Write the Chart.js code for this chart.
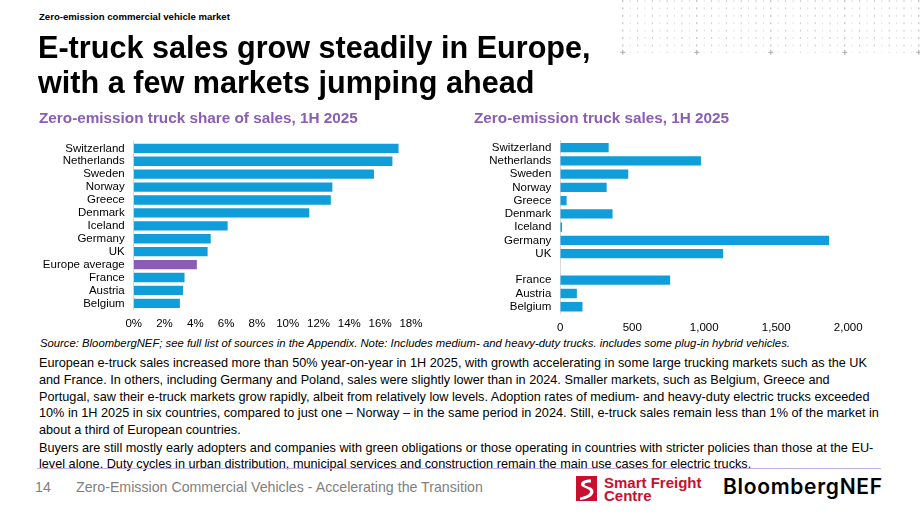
<!DOCTYPE html>
<html>
<head>
<meta charset="utf-8">
<script src="https://cdn.jsdelivr.net/npm/chart.js@4.4.1/dist/chart.umd.min.js"></script>
<style>
  body { margin: 0; width: 920px; height: 518px; position: relative; overflow: hidden; background: #fff;
         font-family: "Liberation Sans", Arial, sans-serif; color: #000; }
  .t { position: absolute; white-space: nowrap; line-height: 1; }
  .purple { color: #8a5db6; font-weight: bold; }
  canvas { position: absolute; }
</style>
</head>
<body>

<canvas id="dots" width="305" height="58" style="left:615px;top:0"></canvas>

<div class="t" style="left:39px;top:11.6px;font-size:9.6px;font-weight:bold">Zero-emission commercial vehicle market</div>
<div class="t" style="left:38px;top:31.6px;font-size:30.6px;font-weight:bold">E-truck sales grow steadily in Europe,</div>
<div class="t" style="left:38px;top:66.6px;font-size:30.6px;font-weight:bold">with a few markets jumping ahead</div>

<div class="t purple" style="left:39px;top:109.5px;font-size:15.3px">Zero-emission truck share of sales, 1H 2025</div>
<div class="t purple" style="left:474px;top:109.5px;font-size:15.3px">Zero-emission truck sales, 1H 2025</div>

<canvas id="shareChart" width="400" height="209" style="left:30px;top:126px"></canvas>
<canvas id="salesChart" width="400" height="210" style="left:470px;top:125px"></canvas>

<div class="t" style="left:40px;top:337.7px;font-size:11.3px;font-style:italic">Source: BloombergNEF; see full list of sources in the Appendix. Note: Includes medium- and heavy-duty trucks. includes some plug-in hybrid vehicles.</div>

<div id="body1" class="t" style="left:39px;font-size:12.7px;line-height:16.8px;white-space:pre;top:355px"></div>
<div id="body2" class="t" style="left:39px;font-size:12.7px;line-height:16.5px;white-space:pre;top:439.5px"></div>

<div style="position:absolute;left:37px;top:467.5px;width:844px;height:1px;background:#c4b0de"></div>

<div class="t" style="left:35px;top:480px;font-size:14.2px;color:#7f7f7f">14</div>
<div class="t" style="left:76px;top:480px;font-size:14.2px;color:#7f7f7f">Zero-Emission Commercial Vehicles - Accelerating the Transition</div>

<svg style="position:absolute;left:576px;top:476px" width="21" height="25" viewBox="0 0 21 25">
  <rect x="0" y="0" width="21" height="25" fill="#c8102e"/>
  <path d="M15 3.5 C9 3.5 5 5 5 8.5 C5 12 14 12 14 15.5 C14 18.5 10 20 4 21.5 L4 24 C12 23 17.5 20 17.5 15.5 C17.5 10.5 8.5 10.5 8.5 8.5 C8.5 7 11 6.5 15 6.5 Z" fill="#fff"/>
</svg>
<div class="t" style="left:604px;top:476px;font-size:15px;font-weight:bold;color:#c8102e;line-height:13px">Smart Freight<br>Centre</div>
<div class="t" style="left:723px;top:476px;font-size:21px;font-family:Inter,'Liberation Sans',sans-serif;font-weight:600;letter-spacing:0.7px">BloombergNEF</div>

<script>
// ---- data ----
const countries = ['Switzerland', 'Netherlands', 'Sweden', 'Norway', 'Greece', 'Denmark', 'Iceland',
                   'Germany', 'UK', 'Europe average', 'France', 'Austria', 'Belgium'];
const sharePct = [17.2, 16.8, 15.6, 12.9, 12.8, 11.4, 6.1, 5.0, 4.8, 4.1, 3.3, 3.2, 3.0];
const salesUnits = [336, 977, 472, 322, 44, 363, 12, 1867, 1131, null, 763, 115, 154];
const shareTicks = [0, 2, 4, 6, 8, 10, 12, 14, 16, 18];
const salesTicks = [0, 500, 1000, 1500, 2000];

const bodyPara1 = [
  'European e-truck sales increased more than 50% year-on-year in 1H 2025, with growth accelerating in some large trucking markets such as the UK',
  'and France. In others, including Germany and Poland, sales were slightly lower than in 2024. Smaller markets, such as Belgium, Greece and',
  'Portugal, saw their e-truck markets grow rapidly, albeit from relatively low levels. Adoption rates of medium- and heavy-duty electric trucks exceeded',
  '10% in 1H 2025 in six countries, compared to just one \u2013 Norway \u2013 in the same period in 2024. Still, e-truck sales remain less than 1% of the market in',
  'about a third of European countries.'
];
const bodyPara2 = [
  'Buyers are still mostly early adopters and companies with green obligations or those operating in countries with stricter policies than those at the EU-',
  'level alone. Duty cycles in urban distribution, municipal services and construction remain the main use cases for electric trucks.'
];
document.getElementById('body1').textContent = bodyPara1.join('\n');
document.getElementById('body2').textContent = bodyPara2.join('\n');

const BLUE = '#0f9ed9';
const PURPLE = '#8a5cb6';
const FONT = { family: '"Liberation Sans", Arial, sans-serif', size: 11.5 };

// dotted decoration, top right
const dctx = document.getElementById('dots').getContext('2d');
for (let i = 0; i < 41; i++) {
  for (let j = 0; j < 8; j++) {
    const x = 7.3 + i * 7.4, y = j * 7.4;
    if (j === 7 && i % 10 === 0) {
      dctx.fillStyle = '#a8a8a8';
      dctx.fillRect(x - 2, y, 5, 1);
      dctx.fillRect(x, y - 2, 1, 5);
      continue;
    }
    dctx.fillStyle = i % 10 === 0 ? '#b4b4b4' : (i % 2 ? '#e2e2e2' : '#cbcbcb');
    dctx.fillRect(x, y, 1, j === 7 ? 1 : 2);
  }
}

function baseOptions(xmax, ticksList, fmt, padTop, padRight, xH, xPad, yW) {
  return {
    indexAxis: 'y',
    responsive: false,
    animation: false,
    layout: { padding: { top: padTop, right: padRight, left: 0, bottom: 0 } },
    plugins: { legend: { display: false }, tooltip: { enabled: false } },
    scales: {
      x: {
        min: 0, max: xmax,
        afterBuildTicks: s => { s.ticks = ticksList.map(v => ({ value: v })); },
        ticks: { callback: fmt, color: '#000', font: FONT, padding: xPad, maxRotation: 0 },
        grid: { display: false, drawTicks: false },
        border: { display: false },
        afterFit: s => { s.height = xH; }
      },
      y: {
        ticks: { color: '#000', font: FONT, padding: 9, autoSkip: false },
        grid: { display: false, drawTicks: false },
        border: { display: true, color: '#d9d9d9', width: 1 },
        afterFit: s => { s.width = yW; }
      }
    }
  };
}

new Chart(document.getElementById('shareChart'), {
  type: 'bar',
  data: {
    labels: countries,
    datasets: [{
      data: sharePct,
      backgroundColor: countries.map(c => c === 'Europe average' ? PURPLE : BLUE),
      barPercentage: 0.72,
      categoryPercentage: 1
    }]
  },
  options: baseOptions(18, shareTicks, v => v + '%', 5.5, 14, 25.2, 7.6, 103.7)
});

new Chart(document.getElementById('salesChart'), {
  type: 'bar',
  data: {
    labels: countries.map(c => c === 'Europe average' ? '' : c),
    datasets: [{
      data: salesUnits,
      backgroundColor: BLUE,
      barPercentage: 0.7,
      categoryPercentage: 1
    }]
  },
  options: baseOptions(2000, salesTicks, v => v.toLocaleString('en-US'), 4.3, 18, 21.6, 7.4, 90.3)
});
</script>
</body>
</html>
